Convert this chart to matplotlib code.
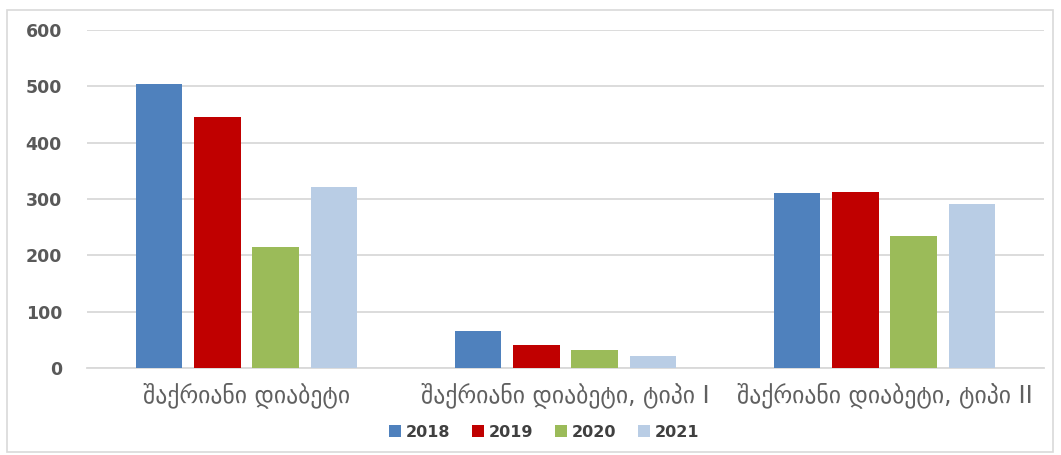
import matplotlib.pyplot as plt
from matplotlib.patches import Rectangle
import numpy as np

# კატეგორიები და მონაცემები წლების მიხედვით
categories = ["შაქრიანი დიაბეტი", "შაქრიანი დიაბეტი, ტიპი I", "შაქრიანი დიაბეტი, ტიპი II"]
years = ["2018", "2019", "2020", "2021"]
v2018 = [505, 66, 311]
v2019 = [445, 40, 313]
v2020 = [214, 32, 235]
v2021 = [321, 22, 291]
colors = ["#4F81BD", "#C00000", "#9BBB59", "#B9CDE5"]

fig = plt.figure(figsize=(10.61, 4.55), dpi=100)
ax = fig.add_axes([87 / 1061, 87 / 455, 957 / 1061, 338 / 455])

# ჩარჩო მთელი ფიგურის გარშემო
fig.patches.append(Rectangle((7 / 1061, 3 / 455), 1046 / 1061, 442 / 455,
                             transform=fig.transFigure, fill=False,
                             edgecolor="#D9D9D9", linewidth=1.2))

x = np.arange(len(categories))
width = 0.145
step = 0.1824
for i, (vals, col, lab) in enumerate(zip([v2018, v2019, v2020, v2021], colors, years)):
    ax.bar(x + (i - 1.5) * step, vals, width, color=col, label=lab, zorder=3)

ax.set_xlim(-0.5, 2.5)
ax.set_ylim(0, 600)
ax.set_yticks(range(0, 601, 100))
ax.grid(axis="y", color="#D9D9D9", linewidth=1.3, zorder=0)
for s in ["top", "right", "left"]:
    ax.spines[s].set_visible(False)
ax.spines["bottom"].set_color("#D9D9D9")
ax.spines["bottom"].set_linewidth(1.3)
ax.tick_params(axis="both", length=0)
ax.tick_params(axis="y", pad=18)
ax.tick_params(axis="x", pad=10)

ax.set_xticks(x)
ax.set_xticklabels(categories, fontsize=17, color="#606060", family="DejaVu Sans")
for t in ax.get_yticklabels():
    t.set_fontsize(12.5)
    t.set_fontweight("bold")
    t.set_color("#595959")
    t.set_family("DejaVu Sans")

fig.legend(loc="center", bbox_to_anchor=(0.513, 0.05), ncol=4, frameon=False,
           handlelength=0.75, handleheight=0.75, handletextpad=0.3, columnspacing=1.35,
           prop={"family": "DejaVu Sans", "weight": "bold", "size": 11.5},
           labelcolor="#404040")

fig.savefig("out.png", dpi=100, facecolor="white")
